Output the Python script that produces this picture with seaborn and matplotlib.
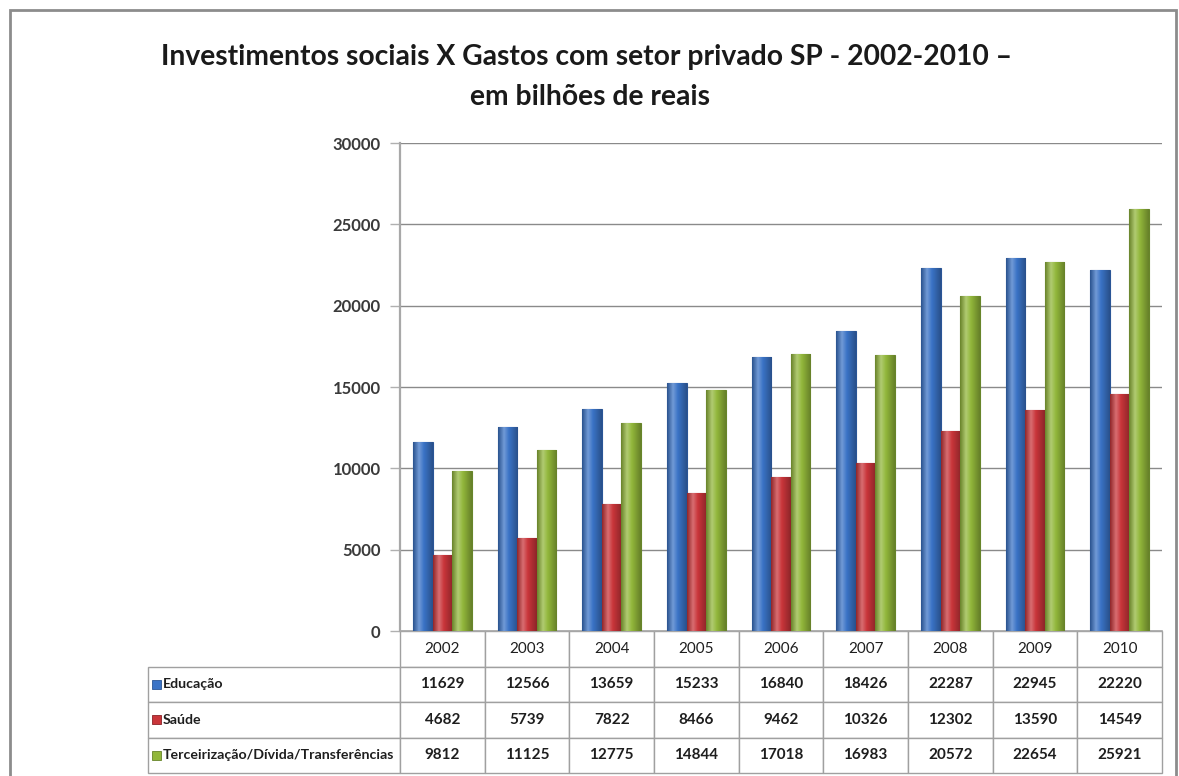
import numpy as np
import pandas as pd
import matplotlib
matplotlib.use("Agg")
import matplotlib.pyplot as plt
from matplotlib.patches import Rectangle
from matplotlib.colors import LinearSegmentedColormap, to_rgb
import seaborn as sns

# Data (values in billions of reais)
years = ["2002", "2003", "2004", "2005", "2006", "2007", "2008", "2009", "2010"]
educacao = [11629, 12566, 13659, 15233, 16840, 18426, 22287, 22945, 22220]
saude = [4682, 5739, 7822, 8466, 9462, 10326, 12302, 13590, 14549]
terceirizacao = [9812, 11125, 12775, 14844, 17018, 16983, 20572, 22654, 25921]
series_names = ["Educação", "Saúde", "Terceirização/Dívida/Transferências"]
y_ticks = [0, 5000, 10000, 15000, 20000, 25000, 30000]

colors = ["#3a73c6", "#c9353a", "#92b73b"]
edge_colors = ["#2a5596", "#8a2226", "#67852a"]

df = pd.DataFrame({
    "Ano": years * 3,
    "Série": np.repeat(series_names, len(years)),
    "Valor": educacao + saude + terceirizacao,
})

sns.set_theme(style="white")
plt.rcParams["font.family"] = ["Lato", "DejaVu Sans"]

W, H = 1179, 776
fig = plt.figure(figsize=(W / 100, H / 100), dpi=100)
fig.patch.set_facecolor("white")

ax = fig.add_axes([400 / W, 1 - 631 / H, 762 / W, 488 / H])
sns.barplot(data=df, x="Ano", y="Valor", hue="Série", palette=colors,
            width=0.69, saturation=1, ax=ax, legend=False, zorder=3)


def shade(c, f):
    r = np.array(to_rgb(c))
    return tuple(np.clip(r * f if f < 1 else r + (1 - r) * (f - 1), 0, 1))


# Cylindrical shading on each bar
grad = np.linspace(0, 1, 64).reshape(1, -1)
for container, base, ec in zip(ax.containers, colors, edge_colors):
    cmap = LinearSegmentedColormap.from_list(
        "bar", [(0.0, shade(base, 0.72)), (0.3, shade(base, 1.28)),
                (0.55, shade(base, 1.0)), (1.0, shade(base, 0.7))])
    for bar in container:
        bar.set_edgecolor(ec)
        bar.set_linewidth(0.8)
        x0, w, h = bar.get_x(), bar.get_width(), bar.get_height()
        im = ax.imshow(grad, cmap=cmap, aspect="auto", interpolation="bilinear",
                       extent=[x0, x0 + w, 0, h], zorder=3.5)
        im.set_clip_path(bar)

ax.set_xlim(-0.5, len(years) - 0.5)
ax.set_ylim(0, 30000)
ax.set_yticks(y_ticks)
ax.set_yticklabels([str(t) for t in y_ticks], fontsize=12, fontweight="bold",
                   color="#3a3a3a")
ax.set_xticks([])
ax.set_xlabel("")
ax.set_ylabel("")
ax.yaxis.grid(True, color="#8a8a8a", linewidth=1.0, zorder=0)
ax.set_axisbelow(True)
ax.tick_params(axis="y", which="both", left=True, length=7, width=1,
               color="#b0b0b0", pad=7)
for side in ("top", "right"):
    ax.spines[side].set_visible(False)
ax.spines["left"].set_color("#a8a8a8")
ax.spines["left"].set_linewidth(1.6)
ax.spines["bottom"].set_color("#a8a8a8")
ax.spines["bottom"].set_linewidth(1.2)

# Data table below the bars: first column holds the series names
cell_text = [[name] + [str(v) for v in s]
             for name, s in zip(series_names, (educacao, saude, terceirizacao))]
label_w = 252 / 762
tbl_h = 142 / 488
tbl = ax.table(cellText=cell_text, colLabels=[""] + years,
               colWidths=[label_w] + [1 / len(years)] * len(years),
               cellLoc="center", colLoc="center",
               bbox=[-label_w, -tbl_h, 1 + label_w, tbl_h])
tbl.auto_set_font_size(False)
tbl.set_fontsize(11)
for (r, c), cell in tbl.get_celld().items():
    cell.set_edgecolor("#a0a0a0")
    cell.set_linewidth(1.0)
    txt = cell.get_text()
    txt.set_color("#1e1e1e")
    if r > 0:
        txt.set_fontweight("bold")
    if c == 0:
        cell.PAD = 0.058
        cell._loc = "left"
        txt.set_ha("left")
        txt.set_fontsize(10.2)
        if r == 0:
            cell.visible_edges = ""

fig.canvas.draw()
for i, col in enumerate(colors):
    cell = tbl.get_celld()[(i + 1, 0)]
    ax.add_patch(Rectangle((cell.get_x() + 4 / 762,
                            cell.get_y() + cell.get_height() / 2 - 4.5 / 488),
                           9 / 762, 9 / 488, transform=ax.transAxes,
                           facecolor=col, edgecolor=edge_colors[i], lw=0.6,
                           clip_on=False))

# Title
fig.text(587 / W, 1 - 57 / H,
         "Investimentos sociais X Gastos com setor privado SP - 2002-2010 –",
         ha="center", va="center", fontsize=20.3, fontweight="bold",
         color="#1a1a1a")
fig.text(590 / W, 1 - 97 / H, "em bilhões de reais",
         ha="center", va="center", fontsize=20.3, fontweight="bold",
         color="#1a1a1a")

# Chart frame
fig.patches.append(Rectangle((10 / W, -0.01), 1166 / W, 1 - 10 / H + 0.01,
                             transform=fig.transFigure, fill=False,
                             edgecolor="#8c8c8c", linewidth=2))

fig.savefig("out.png", dpi=100)
